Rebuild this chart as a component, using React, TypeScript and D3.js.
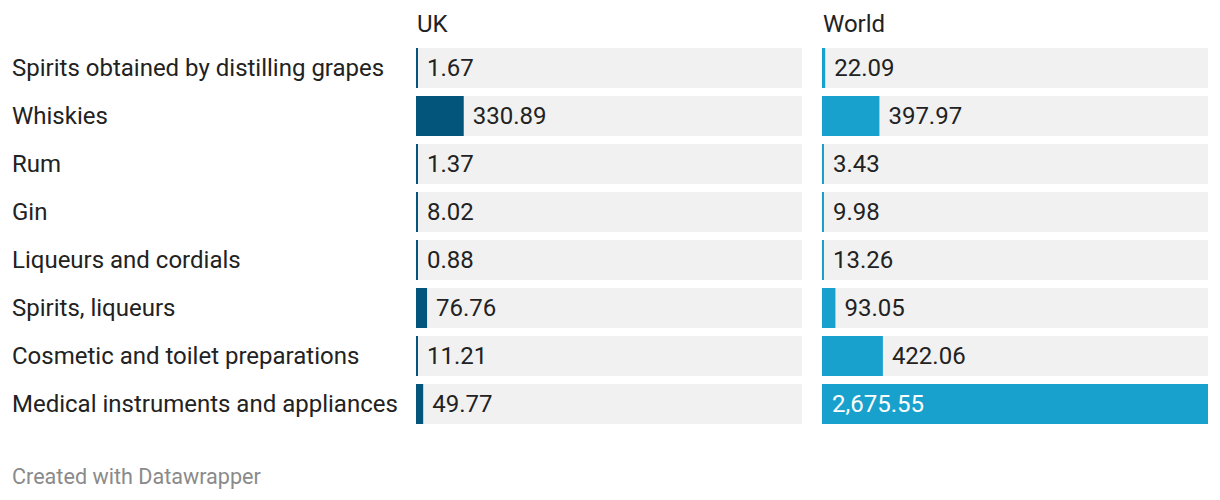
import React from "react";
import * as d3 from "d3";

const categories = [
  "Spirits obtained by distilling grapes",
  "Whiskies",
  "Rum",
  "Gin",
  "Liqueurs and cordials",
  "Spirits, liqueurs",
  "Cosmetic and toilet preparations",
  "Medical instruments and appliances",
];
const ukValues = [1.67, 330.89, 1.37, 8.02, 0.88, 76.76, 11.21, 49.77];
const worldValues = [22.09, 397.97, 3.43, 9.98, 13.26, 93.05, 422.06, 2675.55];
const seriesNames = ["UK", "World"];
const seriesColors = ["#03557c", "#18a1cd"];

const W = 1220;
const H = 500;
const colX = [416, 822];
const colW = 386;
const rowTop = 48;
const rowPitch = 48;
const rowH = 40;
const font = "Roboto, sans-serif";

export default function App() {
  const maxV = d3.max([...ukValues, ...worldValues]) as number;
  const x = d3.scaleLinear().domain([0, maxV]).range([0, colW]);
  const y = d3
    .scaleBand<number>()
    .domain(d3.range(categories.length))
    .range([rowTop, rowTop + rowPitch * categories.length])
    .paddingInner(0);
  const fmt = d3.format(",.2f");
  const series = [ukValues, worldValues];

  return (
    <div style={{ position: "absolute", left: 0, top: 0 }}>
      <svg width={W} height={H} style={{ display: "block", background: "#fff" }}>
        {seriesNames.map((n, s) => (
          <text key={n} x={colX[s] + 1} y={32} fontFamily={font} fontSize={24} fill="#222">
            {n}
          </text>
        ))}
        {categories.map((c, i) => (
          <text
            key={c}
            x={12}
            y={(y(i) as number) + rowH / 2}
            dy="0.35em"
            fontFamily={font}
            fontSize={24}
            fill="#222"
          >
            {c}
          </text>
        ))}
        {series.map((vals, s) => (
          <g key={s}>
            {vals.map((v, i) => {
              const top = y(i) as number;
              const bw = Math.max(2, x(v));
              const inside = bw > colW - 100;
              const lx = inside ? colX[s] + 10 : colX[s] + bw + 9;
              return (
                <g key={i}>
                  <rect x={colX[s]} y={top} width={colW} height={rowH} fill="#f1f1f1" />
                  <rect x={colX[s]} y={top} width={bw} height={rowH} fill={seriesColors[s]} />
                  <text
                    x={lx}
                    y={top + rowH / 2}
                    dy="0.35em"
                    fontFamily={font}
                    fontSize={24}
                    fill={inside ? "#fff" : "#222"}
                  >
                    {fmt(v)}
                  </text>
                </g>
              );
            })}
          </g>
        ))}
        <text x={12} y={484} fontFamily={font} fontSize={21.6} fill="#8a8a8a">
          Created with Datawrapper
        </text>
      </svg>
    </div>
  );
}
